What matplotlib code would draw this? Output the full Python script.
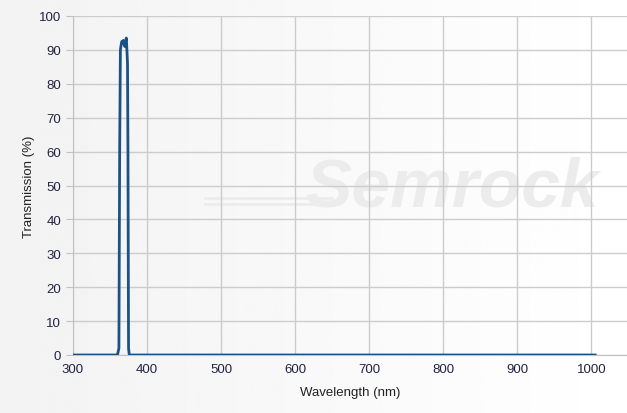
import numpy as np
import matplotlib
matplotlib.use("Agg")
import matplotlib.pyplot as plt

plt.rcParams['font.family'] = ['Liberation Sans', 'DejaVu Sans']

# transmission spectrum
wavelength = [300, 360, 362, 363, 364, 365, 366, 367, 368, 369, 370, 371, 372, 373, 373.6, 374.2, 375, 376, 1005]
transmission = [0, 0, 2, 60, 90, 91.5, 92.5, 92, 92.8, 92, 91, 92.5, 93.5, 89, 86, 60, 2, 0, 0]

xticks = [300, 400, 500, 600, 700, 800, 900, 1000]
yticks = [0, 10, 20, 30, 40, 50, 60, 70, 80, 90, 100]

fig = plt.figure(figsize=(6.27, 4.14), dpi=100)

# faint background gradient (grey at left, white at right)
bg = fig.add_axes([0, 0, 1, 1], zorder=-10)
grad = np.linspace(0.95, 1.0, 256).reshape(1, -1)
bg.imshow(grad, aspect='auto', cmap='gray', vmin=0, vmax=1, extent=[0, 1, 0, 1])
bg.axis('off')

ax = fig.add_axes([73 / 627, 1 - 356 / 414, 1 - 73 / 627, (356 - 17) / 414])
ax.patch.set_alpha(0)

# watermark
ax.text(812, 49.5, 'Semrock', fontsize=50, fontweight='bold', style='italic',
        color='#ececec', ha='center', va='center', zorder=0)
ax.plot([478, 650], [46.3, 46.3], color='#ececec', lw=2, zorder=0)
ax.plot([478, 650], [44.6, 44.6], color='#ececec', lw=2, zorder=0)

ax.plot(wavelength, transmission, color='#1b5283', lw=2, zorder=3)

ax.set_xlim(300, 1048)
ax.set_ylim(0, 100)
ax.set_xticks(xticks)
ax.set_yticks(yticks)
ax.grid(True, color='#cccccc', lw=1)
ax.set_axisbelow(True)

for s in ['top', 'right']:
    ax.spines[s].set_visible(False)
for s in ['left', 'bottom']:
    ax.spines[s].set_color('#c0c0c0')

ax.tick_params(axis='both', colors='#c0c0c0', labelcolor='#222244', labelsize=9.5, length=5)
ax.tick_params(axis='x', length=0, pad=6)

ax.set_xlabel('Wavelength (nm)', fontsize=9.5, color='#222222', labelpad=8)
ax.set_ylabel('Transmission (%)', fontsize=9.5, color='#222222', labelpad=3)

fig.savefig('out.png', dpi=100)
